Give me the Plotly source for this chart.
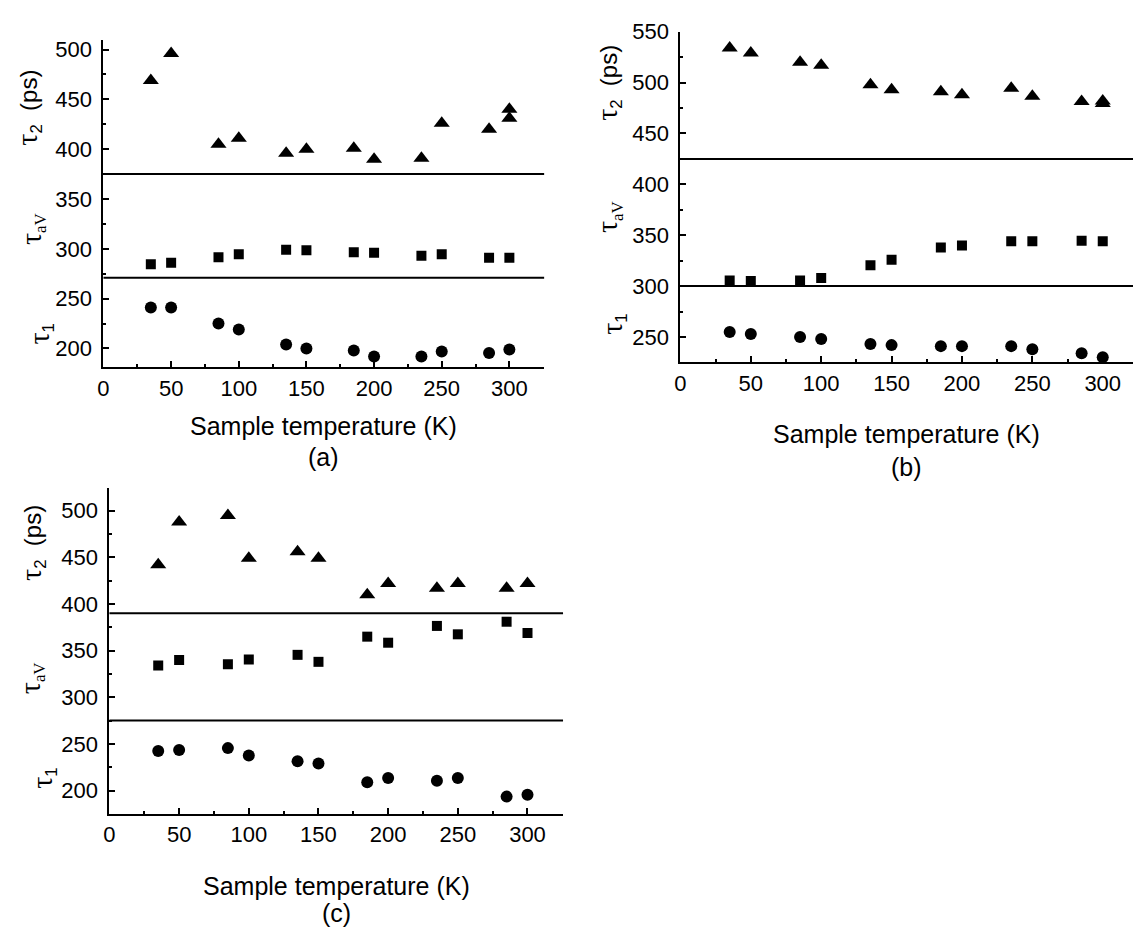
import plotly.graph_objects as go

# ---------------- data ----------------
T = [35, 50, 85, 100, 135, 150, 185, 200, 235, 250, 285, 300]
T_tau2_ab = [35, 50, 85, 100, 135, 150, 185, 200, 235, 250, 285, 300, 300]

a_tau2 = [469, 496, 405, 411, 396, 400, 401, 390, 391, 426, 420, 431, 440]
a_tauav = [284.5, 286, 291.5, 294.5, 299, 298.5, 296.5, 296, 293, 294.5, 291, 291]
a_tau1 = [241, 241, 225, 219, 204, 200, 198, 192, 192, 197, 195.5, 199]
a_sep = [375, 271]

b_tau2 = [534, 529, 520, 517, 498, 493, 491, 488, 494.5, 486.5, 481.5, 482, 479.5]
b_tauav = [305.5, 305, 305.5, 308, 320.5, 326, 338, 340, 344, 344, 344.5, 344]
b_tau1 = [255, 253, 250, 248, 243, 242, 241, 241, 241, 238, 234, 230]
b_sep = [425, 300]

c_tau2 = [442, 488, 495, 449, 456, 449, 410, 422, 417, 422, 417, 422]
c_tauav = [334, 340, 335.5, 340.5, 345.5, 338, 365, 358.5, 376.5, 367.5, 381, 369]
c_tau1 = [242.5, 243.5, 245.5, 237.5, 231.5, 229, 209, 213.5, 210.5, 213.5, 193.5, 195.5]
c_sep = [390, 275]

xlabel = "Sample temperature (K)"
panel_tags = ["(a)", "(b)", "(c)"]

# ---------------- layout geometry (pixels) ----------------
W, H = 1134, 929
SANS = "Liberation Sans, Arial, sans-serif"

def px_x(p):
    return p / W

def px_y(p):
    return 1 - p / H

panels = [
    dict(xs=T_tau2_ab, t2=a_tau2, tav=a_tauav, t1=a_tau1, sep=a_sep,
         xdom=(98, 541), ydom=(28, 360), xr=(0, 325.7), yr=(181, 510),
         title_y=419, tag_y=451, lab=[(22, 97), (26, 220), (34, 326)]),
    dict(xs=T_tau2_ab, t2=b_tau2, tav=b_tauav, t1=b_tau1, sep=b_sep,
         xdom=(678, 1133), ydom=(20, 355), xr=(0, 321.5), yr=(225, 550),
         title_y=428, tag_y=461, lab=[(605, 72), (606, 208), (610, 316)]),
    dict(xs=T, t2=c_tau2, tav=c_tauav, t1=c_tau1, sep=c_sep,
         xdom=(104, 560), ydom=(482, 812), xr=(0, 325.5), yr=(175.4, 524.6),
         title_y=885, tag_y=913, lab=[(26, 538), (25, 675), (37, 776)]),
]

fig = go.Figure()
annotations = []
shapes = []

labels = [
    '<span style="font-family:Liberation Serif;font-size:30px">τ</span><sub>2</sub>&nbsp;&nbsp;(ps)',
    '<span style="font-family:Liberation Serif"><span style="font-size:30px">τ</span><sub>aV</sub></span>',
    '<span style="font-family:Liberation Serif;font-size:30px">τ</span><sub>1</sub>',
]

for i, p in enumerate(panels):
    k = "" if i == 0 else str(i + 1)
    xa, ya = "x" + k, "y" + k
    mk = dict(color="black", line=dict(width=0))
    fig.add_trace(go.Scatter(x=p["xs"][:len(p["t2"])], y=p["t2"], mode="markers",
                             marker=dict(symbol="triangle-up", size=14, **mk),
                             xaxis=xa, yaxis=ya))
    fig.add_trace(go.Scatter(x=T, y=p["tav"], mode="markers",
                             marker=dict(symbol="square", size=10, **mk),
                             xaxis=xa, yaxis=ya))
    fig.add_trace(go.Scatter(x=T, y=p["t1"], mode="markers",
                             marker=dict(symbol="circle", size=12, **mk),
                             xaxis=xa, yaxis=ya))
    for s in p["sep"]:
        shapes.append(dict(type="line", xref=xa + " domain", yref=ya,
                           x0=0, x1=1, y0=s, y1=s,
                           line=dict(color="black", width=2)))

    common = dict(showline=True, linecolor="black", linewidth=2, mirror=False,
                  ticks="inside", ticklen=6, tickwidth=1.5, tickcolor="black",
                  showgrid=False, zeroline=False, tick0=0, dtick=50,
                  tickfont=dict(family=SANS, size=22, color="black"),
                  minor=dict(ticks="inside", ticklen=3, tickwidth=1.5,
                             tickcolor="black", dtick=25, tick0=0, showgrid=False))
    fig.layout["xaxis" + k] = dict(domain=[px_x(p["xdom"][0]), px_x(p["xdom"][1])],
                                   range=list(p["xr"]), anchor=ya,
                                   ticklabelstandoff=0, **common)
    fig.layout["yaxis" + k] = dict(domain=[px_y(p["ydom"][1]), px_y(p["ydom"][0])],
                                   range=list(p["yr"]), anchor=xa,
                                   ticklabelstandoff=5, **common)

    cx = (p["xdom"][0] + p["xdom"][1]) / 2
    annotations.append(dict(text=xlabel, x=px_x(cx), y=px_y(p["title_y"]),
                            xref="paper", yref="paper", showarrow=False,
                            xanchor="center", yanchor="middle",
                            font=dict(family=SANS, size=25, color="black")))
    annotations.append(dict(text=panel_tags[i], x=px_x(cx), y=px_y(p["tag_y"]),
                            xref="paper", yref="paper", showarrow=False,
                            xanchor="center", yanchor="middle",
                            font=dict(family=SANS, size=25, color="black")))
    for (lx, ly), txt in zip(p["lab"], labels):
        annotations.append(dict(text=txt, x=px_x(lx), y=px_y(ly),
                                xref="paper", yref="paper", showarrow=False,
                                xanchor="center", yanchor="middle", textangle=-90,
                                font=dict(family=SANS, size=24, color="black")))

fig.update_layout(width=W, height=H, margin=dict(l=0, r=0, t=0, b=0),
                  paper_bgcolor="white", plot_bgcolor="white",
                  showlegend=False, annotations=annotations, shapes=shapes)

fig.write_html("out.html")
